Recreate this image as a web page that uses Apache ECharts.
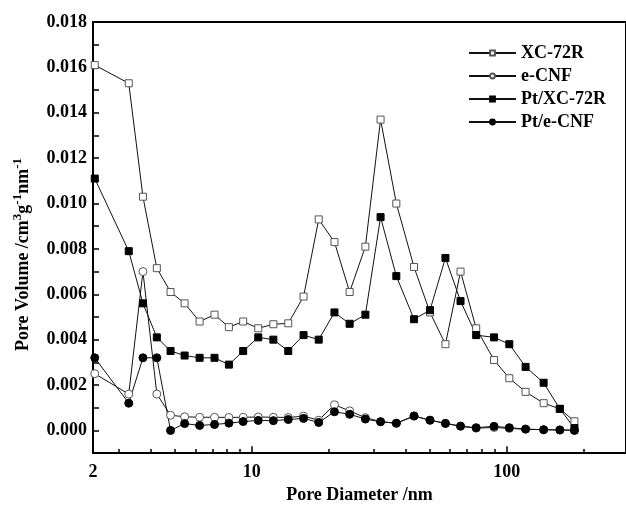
<!DOCTYPE html>
<html>
<head>
<meta charset="utf-8">
<script src="https://cdn.jsdelivr.net/npm/echarts@6/dist/echarts.min.js"></script>
<style>
  html, body { margin: 0; padding: 0; background: #fff; }
  #chart { width: 626px; height: 509px; }
</style>
</head>
<body>
<div id="chart"></div>
<script>
// pore diameters (nm), shared by all four curves
const diameters = [2.42, 3.29, 3.74, 4.24, 4.80, 5.45, 6.24, 7.14, 8.13, 9.25,
  10.6, 12.15, 13.9, 15.96, 18.3, 21.1, 24.2, 27.9, 32.0, 36.9,
  43.3, 50.0, 57.5, 65.9, 75.9, 89.2, 102.4, 118.6, 139.6, 161.6, 184.4];

const xc72r = [0.0161, 0.0153, 0.0103, 0.00715, 0.0061, 0.0056, 0.0048, 0.0051, 0.00455, 0.0048,
  0.0045, 0.00468, 0.00472, 0.0059, 0.0093, 0.0083, 0.0061, 0.0081, 0.0137, 0.0100,
  0.0072, 0.0052, 0.0038, 0.0070, 0.0045, 0.0031, 0.0023, 0.0017, 0.0012, 0.00095, 0.0004];

const eCNF = [0.0025, 0.0016, 0.0070, 0.0016, 0.00067, 0.0006, 0.00058, 0.00058, 0.00057, 0.00058,
  0.00059, 0.00058, 0.00057, 0.00063, 0.00045, 0.00113, 0.00086, 0.00056, 0.00039, 0.00031,
  0.00063, 0.00045, 0.00031, 0.00018, 0.0001, 0.00013, 0.00009, 0.00005, 0.00003, 0.00002, 0.00001];

const ptXc72r = [0.0111, 0.0079, 0.0056, 0.0041, 0.0035, 0.0033, 0.0032, 0.0032, 0.0029, 0.0035,
  0.0041, 0.0040, 0.0035, 0.0042, 0.0040, 0.0052, 0.0047, 0.0051, 0.0094, 0.0068,
  0.0049, 0.0053, 0.0076, 0.0057, 0.0042, 0.0041, 0.0038, 0.0028, 0.0021, 0.00095, 0.0001];

const ptECNF = [0.0032, 0.0012, 0.0032, 0.0032, 0.0000, 0.0003, 0.00022, 0.00026, 0.00032, 0.00039,
  0.00044, 0.00043, 0.00048, 0.00053, 0.00035, 0.00082, 0.00071, 0.0005, 0.00038, 0.00032,
  0.00064, 0.00045, 0.00031, 0.00019, 0.00012, 0.00018, 0.00012, 0.00006, 0.00003, 0.00002, 0.0];

const xMin = 2.382;
const xMax = 293.8;
const yMin = -0.001;
const yMax = 0.018;
const xLabelValues = [xMin, 10, 100];
const xMinorTicks = [3, 4, 5, 6, 7, 8, 9, 20, 30, 40, 50, 60, 70, 80, 90, 200];
const xMajorTicks = [10, 100];

const font = "'Liberation Serif', 'Times New Roman', serif";

const chart = echarts.init(document.getElementById("chart"));

function pairs(values) {
  return diameters.map((d, i) => [d, values[i]]);
}

// bottom-axis ticks pointing into the plot, as short vertical segments in data space
function tickSegments(values, height) {
  return values.map((v) => [{ coord: [v, yMin] }, { coord: [v, yMin + height] }]);
}

function makeSeries(name, values, symbol, filled, size) {
  return {
    name: name,
    type: "line",
    xAxisIndex: 0,
    data: pairs(values),
    symbol: symbol,
    symbolSize: size,
    showAllSymbol: true,
    lineStyle: { color: "#111", width: 1 },
    itemStyle: filled
      ? { color: "#000", borderColor: "#000", borderWidth: 1 }
      : { color: "#fff", borderColor: "#555", borderWidth: 1 },
    emphasis: { disabled: true },
    animation: false,
  };
}

const firstSeries = makeSeries("XC-72R", xc72r, "rect", false, 7);
firstSeries.markLine = {
  silent: true,
  animation: false,
  symbol: ["none", "none"],
  label: { show: false },
  lineStyle: { color: "#000", width: 1.5, type: "solid" },
  emphasis: { disabled: true },
  data: tickSegments(xMinorTicks, 0.00018).concat(tickSegments(xMajorTicks, 0.0003)),
};

const option = {
  animation: false,
  grid: {
    left: 93,
    top: 22,
    right: -3,
    bottom: 52,
    show: true,
    borderColor: "#000",
    borderWidth: 2,
    backgroundColor: "transparent",
  },
  legend: {
    orient: "vertical",
    left: 463,
    top: 39,
    itemWidth: 47,
    itemHeight: 6,
    itemGap: 5,
    textStyle: {
      fontFamily: font,
      fontWeight: "bold",
      fontSize: 18,
      color: "#000",
      lineHeight: 18,
    },
    data: ["XC-72R", "e-CNF", "Pt/XC-72R", "Pt/e-CNF"],
  },
  xAxis: {
    type: "log",
    min: xMin,
    max: xMax,
    name: "Pore Diameter /nm",
    nameLocation: "middle",
    nameGap: 30,
    nameTextStyle: {
      fontFamily: font,
      fontWeight: "bold",
      fontSize: 18,
      color: "#000",
    },
    axisLine: { onZero: false, lineStyle: { color: "#000", width: 2 } },
    axisTick: { show: false },
    axisLabel: {
      margin: 10,
      customValues: xLabelValues,
      fontFamily: font,
      fontWeight: "bold",
      fontSize: 18,
      color: "#000",
      formatter: (v) => (v < 5 ? "2" : String(Math.round(v))),
    },
    splitLine: { show: false },
    minorTick: { show: false },
  },
  yAxis: {
    type: "value",
    min: yMin,
    max: yMax,
    interval: 0.001,
    name: "Pore Volume /cm{sup|3}g{sup|-1}nm{sup|-1}",
    nameLocation: "middle",
    nameGap: 57,
    nameTextStyle: {
      fontFamily: font,
      fontWeight: "bold",
      fontSize: 18,
      color: "#000",
      lineHeight: 24,
      padding: [0, 0, 0, -34],
      rich: {
        sup: {
          fontFamily: font,
          fontWeight: "bold",
          fontSize: 13,
          color: "#000",
          verticalAlign: "top",
          lineHeight: 12,
        },
      },
    },
    axisLine: { onZero: false, lineStyle: { color: "#000", width: 2 } },
    axisTick: {
      inside: true,
      length: 6,
      lineStyle: { color: "#000", width: 1.5 },
    },
    axisLabel: {
      margin: 6,
      fontFamily: font,
      fontWeight: "bold",
      fontSize: 18,
      color: "#000",
      formatter: (v) => {
        const k = Math.round(v * 1000);
        if (k < 0 || k % 2 !== 0) return "";
        return (k / 1000).toFixed(3);
      },
    },
    splitLine: { show: false },
  },
  series: [
    firstSeries,
    makeSeries("e-CNF", eCNF, "circle", false, 8),
    makeSeries("Pt/XC-72R", ptXc72r, "rect", true, 7),
    makeSeries("Pt/e-CNF", ptECNF, "circle", true, 8),
  ],
};

chart.setOption(option);
</script>
</body>
</html>
